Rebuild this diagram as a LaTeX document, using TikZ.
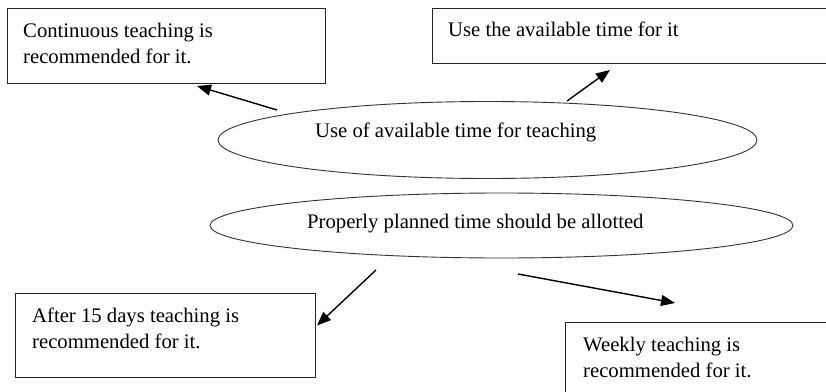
\documentclass[tikz,border=0pt]{standalone}
\usepackage{fontspec}
\setmainfont{Liberation Serif}
\usetikzlibrary{shapes.geometric,arrows.meta,calc}
\newcommand\notefont{\fontsize{20.7}{26}\selectfont}
\begin{document}
\begin{tikzpicture}[x=1pt,y=-1pt,
  notebox/.style={draw=black!85, line width=1pt, rectangle, inner sep=0pt, anchor=north west},
  oval/.style={draw=black!80, line width=0.9pt, ellipse, inner sep=0pt},
  notetext/.style={anchor=north west, inner sep=0pt, align=left, font=\notefont},
  ovaltext/.style={anchor=base west, inner sep=0pt, font=\notefont},
  link/.style={line width=1.4pt, -{Triangle[length=14pt,width=11pt]}}]
\useasboundingbox (0,0) rectangle (826,391);
\fill[white] (0,0) rectangle (826,391);
\clip (0,0) rectangle (826,391);

% outcome boxes (the two on the right run past the page edge)
\node[notebox, minimum width=318pt, minimum height=75pt] (b1) at (7,8) {};
\node[notebox, minimum width=450pt, minimum height=55pt] (b2) at (432,8) {};
\node[notebox, minimum width=300pt, minimum height=84pt] (b3) at (15,293) {};
\node[notebox, minimum width=320pt, minimum height=100pt] (b4) at (565,322) {};

% central ovals
\node[oval, minimum width=539pt, minimum height=77pt] (e1) at (487.5,140) {};
\node[oval, minimum width=583pt, minimum height=65pt] (e2) at (501.5,225.5) {};

% box texts (strut fixes the first baseline)
\node[notetext] (t1) at (23,18.8) {\strut Continuous teaching is\\recommended for it.};
\node[notetext] (t2) at (448,17.8) {\strut Use the available time for it};
\node[notetext] (t3) at (32,303.8) {\strut After 15 days teaching is\\recommended for it.};
\node[notetext] (t4) at (583,332.8) {\strut Weekly teaching is\\recommended for it.};

% oval texts
\node[ovaltext] (o1) at (315,137) {Use of available time for teaching};
\node[ovaltext] (o2) at (307,228) {Properly planned time should be allotted};

% arrow end points
\coordinate (a1s) at ($(e1.center)+(-210.5,-30)$);
\coordinate (a1e) at ($(b1.south west)+(190,2)$);
\coordinate (a2s) at ($(e1.center)+(79.5,-39)$);
\coordinate (a2e) at ($(b2.south west)+(178,6)$);
\coordinate (a3s) at ($(e2.center)+(-125.5,44.5)$);
\coordinate (a3e) at ($(b3.east)+(1,-10)$);
\coordinate (a4s) at ($(e2.center)+(16.5,48.5)$);
\coordinate (a4e) at ($(b4.north west)+(110,-19)$);

\draw[link] (a1s) -- (a1e);
\draw[link] (a2s) -- (a2e);
\draw[link] (a3s) -- (a3e);
\draw[link] (a4s) -- (a4e);
\end{tikzpicture}
\end{document}
